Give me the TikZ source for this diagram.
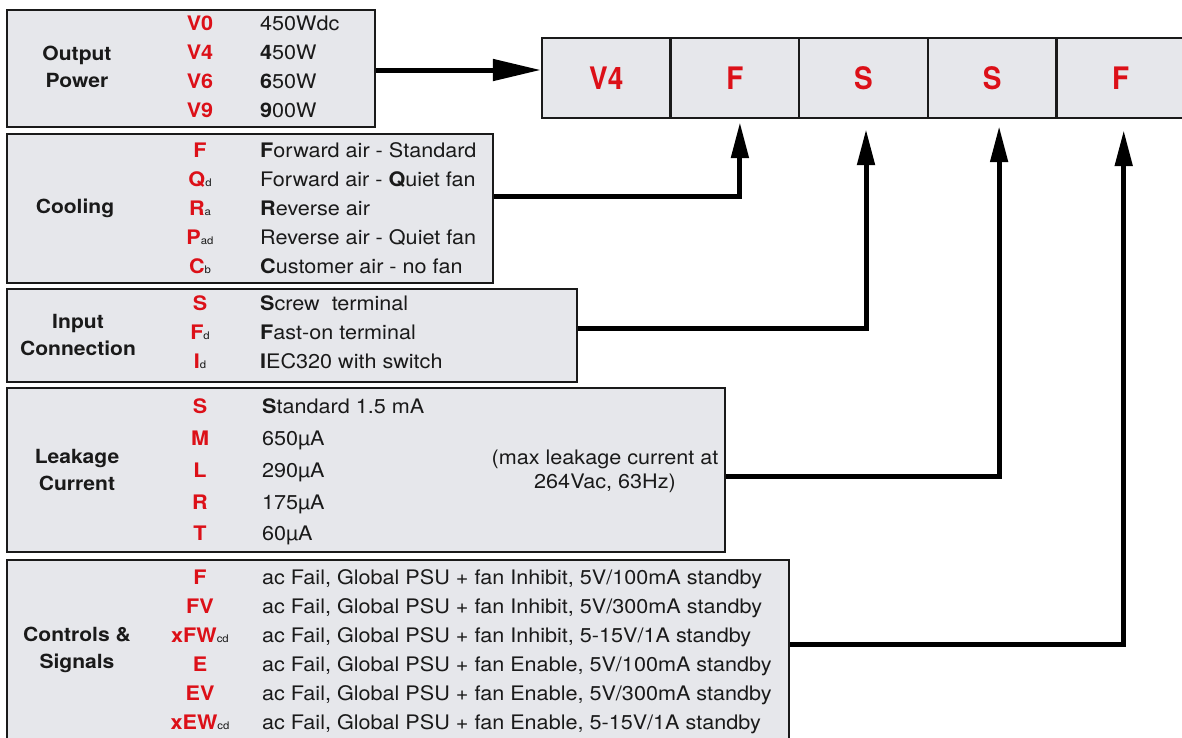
\documentclass[tikz,border=0pt]{standalone}
\usepackage{fontspec}
\setmainfont{TeX Gyre Heros}[FakeStretch=1.08]
\newfontfamily\cellfont{TeX Gyre Heros}[FakeStretch=0.9]
\usetikzlibrary{arrows.meta}
\definecolor{boxfill}{HTML}{E6E7EB}
\definecolor{codered}{HTML}{DC1018}
\definecolor{ink}{HTML}{1A1A1A}
\newcommand\subs[1]{{\mdseries\color{ink}\fontsize{10.5}{10.5}\selectfont #1}}
\tikzset{
  box/.style={draw=ink, line width=2.4pt, fill=boxfill, inner sep=0pt},
  lbl/.style={font=\fontsize{19.5}{27}\selectfont\bfseries, text=ink, align=center, inner sep=0pt},
  code/.style={font=\fontsize{20}{24}\selectfont\bfseries, text=codered, anchor=base, inner sep=0pt},
  desc/.style={font=\fontsize{20}{24}\selectfont, text=ink, anchor=base west, inner sep=0pt},
  cell/.style={draw=ink, line width=2.4pt, fill=boxfill, minimum width=128.6pt, minimum height=80pt, inner sep=0pt, font=\cellfont\fontsize{31}{32}\selectfont\bfseries, text=codered},
  arr/.style={draw=black, line width=5pt, -{Triangle[length=36pt,width=17pt]}},
  arrH/.style={draw=black, line width=5pt, -{Triangle[length=48pt,width=21pt]}},
}
\begin{document}
\begin{tikzpicture}[x=1pt,y=-1pt]
\useasboundingbox (0,0) rectangle (1182,737);
% boxes
\node[box, minimum width=368pt, minimum height=117pt] (b1) at (191,68.5) {};
\node[box, minimum width=486pt, minimum height=149pt] (b2) at (250,208.5) {};
\node[box, minimum width=570pt, minimum height=93pt] (b3) at (292,335.5) {};
\node[box, minimum width=718pt, minimum height=164pt] (b4) at (366,470) {};
\node[box, minimum width=782pt, minimum height=182pt] (b5) at (398,651) {};
% code row
\node[cell] (c1) at (606.3,78) {V4};
\node[cell] (c2) at (734.9,78) {F};
\node[cell] (c3) at (863.5,78) {S};
\node[cell] (c4) at (992.1,78) {S};
\node[cell] (c5) at (1120.7,78) {F};
% box 1
\node[lbl] (l1) at (77,67) {Output\\Power};
\node[code] (k11) at (200,30) {V0};
\node[code] (k12) at (200,59) {V4};
\node[code] (k13) at (200,88) {V6};
\node[code] (k14) at (200,117) {V9};
\node[desc] (d11) at (260,30) {450Wdc};
\node[desc] (d12) at (260,59) {\textbf{4}50W};
\node[desc] (d13) at (260,88) {\textbf{6}50W};
\node[desc] (d14) at (260,117) {\textbf{9}00W};
% box 2
\node[lbl] (l2) at (75,208) {Cooling};
\node[code] (k21) at (200,157) {F};
\node[code] (k22) at (200,186) {Q\subs{d}};
\node[code] (k23) at (200,215) {R\subs{a}};
\node[code] (k24) at (200,244) {P\subs{ad}};
\node[code] (k25) at (200,273) {C\subs{b}};
\node[desc] (d21) at (260,157) {\textbf{F}orward air - Standard};
\node[desc] (d22) at (260,186) {Forward air - \textbf{Q}uiet fan};
\node[desc] (d23) at (260,215) {\textbf{R}everse air};
\node[desc] (d24) at (260,244) {Reverse air - Quiet fan};
\node[desc] (d25) at (260,273) {\textbf{C}ustomer air - no fan};
% box 3
\node[lbl] (l3) at (78,335.5) {Input\\Connection};
\node[code] (k31) at (200,310) {S};
\node[code] (k32) at (200,339) {F\subs{d}};
\node[code] (k33) at (200,368) {I\subs{d}};
\node[desc] (d31) at (260,310) {\textbf{S}crew\ \ terminal};
\node[desc] (d32) at (260,339) {\textbf{F}ast-on terminal};
\node[desc] (d33) at (260,368) {\textbf{I}EC320 with switch};
% box 4
\node[lbl] (l4) at (77,469.5) {Leakage\\Current};
\node[code] (k41) at (200,413) {S};
\node[code] (k42) at (200,445) {M};
\node[code] (k43) at (200,477) {L};
\node[code] (k44) at (200,509) {R};
\node[code] (k45) at (200,540) {T};
\node[desc] (d41) at (262,413) {\textbf{S}tandard 1.5 mA};
\node[desc] (d42) at (262,445) {650µA};
\node[desc] (d43) at (262,477) {290µA};
\node[desc] (d44) at (262,509) {175µA};
\node[desc] (d45) at (262,540) {60µA};
\node[lbl, font=\fontsize{20}{24}\selectfont] (n4) at (605,471) {(max leakage current at\\264Vac, 63Hz)};
% box 5
\node[lbl] (l5) at (77,650) {Controls \&\\Signals};
\node[code] (k51) at (200,584) {F};
\node[code] (k52) at (200,613) {FV};
\node[code] (k53) at (200,642) {xFW\subs{cd}};
\node[code] (k54) at (200,671) {E};
\node[code] (k55) at (200,700) {EV};
\node[code] (k56) at (200,729) {xEW\subs{cd}};
\node[desc] (d51) at (262,584) {ac Fail, Global PSU + fan Inhibit, 5V/100mA standby};
\node[desc] (d52) at (262,613) {ac Fail, Global PSU + fan Inhibit, 5V/300mA standby};
\node[desc] (d53) at (262,642) {ac Fail, Global PSU + fan Inhibit, 5-15V/1A standby};
\node[desc] (d54) at (262,671) {ac Fail, Global PSU + fan Enable, 5V/100mA standby};
\node[desc] (d55) at (262,700) {ac Fail, Global PSU + fan Enable, 5V/300mA standby};
\node[desc] (d56) at (262,729) {ac Fail, Global PSU + fan Enable, 5-15V/1A standby};
% connectors
\draw[arrH] ([yshift=-1.5pt]b1.east) -- ([yshift=8pt]c1.west);
\draw[arr] ([yshift=12.5pt]b2.east) -| ([xshift=5pt,yshift=-3pt]c2.south);
\draw[arr] ([yshift=7.5pt]b3.east) -| ([xshift=2.5pt,yshift=-10pt]c3.south);
\draw[arr] ([yshift=-6pt]b4.east) -| ([xshift=7pt,yshift=-7pt]c4.south);
\draw[arr] ([yshift=7pt]b5.east) -| ([xshift=3pt,yshift=-11pt]c5.south);
\end{tikzpicture}
\end{document}
